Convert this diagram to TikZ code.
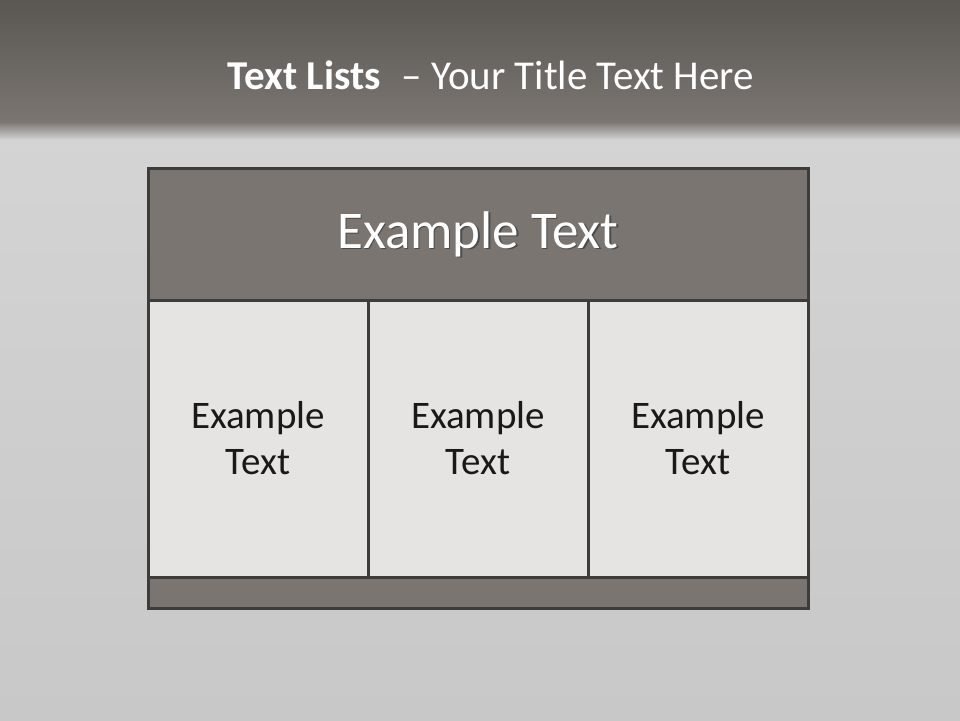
\documentclass[tikz,border=0pt]{standalone}
\usepackage{fontspec}
\setmainfont{Carlito}
\definecolor{bandtop}{HTML}{5A5652}
\definecolor{bandlow}{HTML}{7C7773}
\definecolor{slatetop}{HTML}{D4D4D4}
\definecolor{slatelow}{HTML}{C8C8C8}
\definecolor{headfill}{HTML}{7A7571}
\definecolor{cellfill}{HTML}{E5E4E2}
\definecolor{edge}{HTML}{3E3C3A}
\tikzset{
  panel/.style={draw=edge, line width=3pt, rectangle, inner sep=0pt},
  headbox/.style={panel, fill=headfill, minimum width=660pt, minimum height=132pt},
  cellbox/.style={panel, fill=cellfill, minimum width=220pt, minimum height=277pt,
    align=center, font=\fontsize{39}{46}\selectfont, text=black!90},
  footbox/.style={panel, fill=headfill, minimum width=660pt, minimum height=31pt}
}
\begin{document}
\begin{tikzpicture}[x=1pt,y=-1pt]
\useasboundingbox (0,0) rectangle (960,720);
% background
\shade[top color=bandtop, bottom color=bandlow] (0,0) rectangle (960,128);
\shade[top color=slatetop, bottom color=slatelow] (0,128) rectangle (960,720);
\shade[top color=bandlow, bottom color=slatetop] (0,122) rectangle (960,140);

\node[text=white, font=\fontsize{41}{48}\selectfont] (title) at (491,75)
{\textbf{Text Lists}\; -- Your Title Text Here};

\node[headbox] (head) at (478,234) {};
\node[cellbox] (c1) at (258,438.5) {Example\\Text};
\node[cellbox] (c2) at (478,438.5) {Example\\Text};
\node[cellbox] (c3) at (698,438.5) {Example\\Text};
\node[footbox] (foot) at (478,592.5) {};

% header text with shadow
\node[text=black!70, font=\fontsize{53}{60}\selectfont] at ([xshift=1.5pt,yshift=-1.5pt]head.center) {Example Text};
\node[text=white, font=\fontsize{53}{60}\selectfont] (htext) at (head.center) {Example Text};
\end{tikzpicture}
\end{document}
